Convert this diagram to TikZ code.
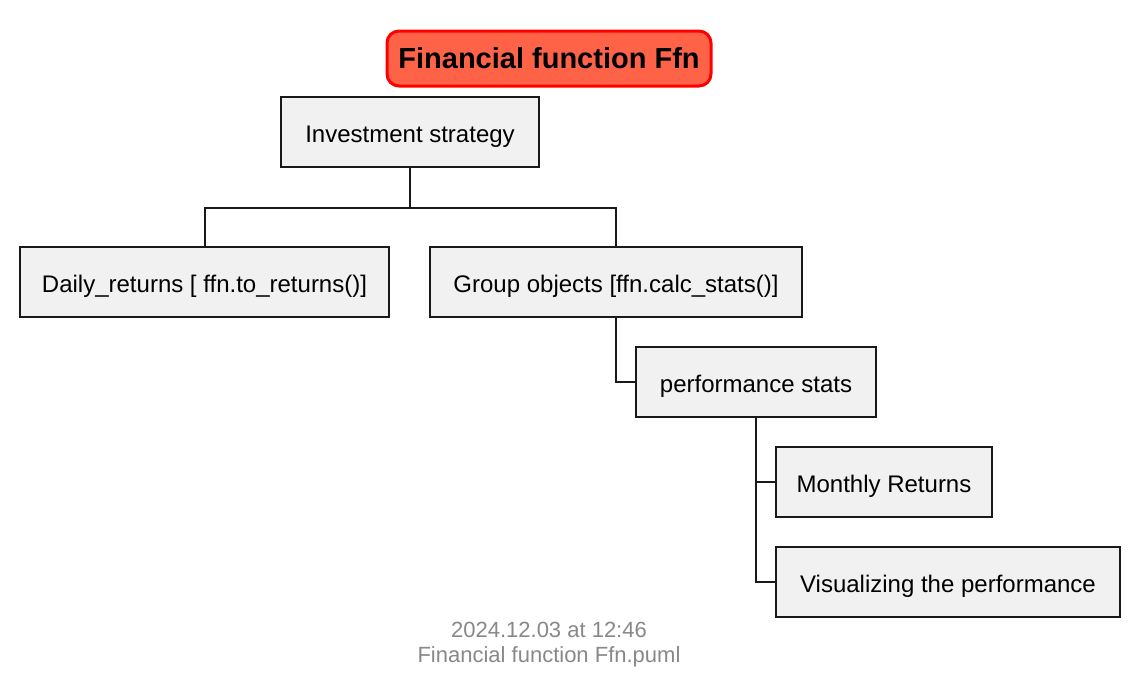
\documentclass[tikz,border=0pt]{standalone}
\usepackage{fontspec}
\setmainfont{Liberation Sans}
\usetikzlibrary{positioning}

\definecolor{boxfill}{HTML}{F1F1F1}
\definecolor{titlefill}{HTML}{FF6347}
\definecolor{footgray}{HTML}{888888}

\begin{document}
\begin{tikzpicture}[
        x=0.5pt, y=-0.5pt,
        item/.style={
            draw=black!90, fill=boxfill, line width=1pt,
            minimum height=35pt, inner sep=0pt,
            text height=10pt, text depth=0pt,
            font=\fontsize{12}{14}\selectfont
        },
        titlebox/.style={
            draw=red, fill=titlefill, line width=1.5pt, rounded corners=6pt,
            minimum width=162pt, minimum height=27.5pt, inner sep=0pt,
            text height=9.5pt, text depth=0pt,
            font=\fontsize{14.5}{17}\selectfont\bfseries
        },
        link/.style={line width=1pt, black!90}
    ]
    \useasboundingbox (0,0) rectangle (1140,692);

    \node[titlebox] (title) at (549,58.5) {Financial function Ffn};
    \node[item, minimum width=129pt] (invest) at (410,132) {Investment strategy};
    \node[item, minimum width=184.5pt] (daily) at (204.5,282) {Daily\_returns [ ffn.to\_returns()]};
    \node[item, minimum width=186pt] (group) at (616,282) {Group objects [ffn.calc\_stats()]};
    \node[item, minimum width=120pt] (perf) at (756,382) {performance stats};
    \node[item, minimum width=108pt] (monthly) at (884,482) {Monthly Returns};
    \node[item, minimum width=172pt] (visual) at (948,582) {Visualizing the performance};

    \draw[link] (invest.south) -- ++(0,40) -| (daily.north);
    \draw[link] (invest.south) -- ++(0,40) -| (group.north);
    \draw[link] (group.south) |- (perf.west);
    \draw[link] (perf.south) |- (monthly.west);
    \draw[link] (perf.south) |- (visual.west);

    % footer
    \node[font=\fontsize{11}{12.5}\selectfont, text=footgray, align=center] (footer) at (549,644.5)
      {2024.12.03 at 12:46\\Financial function Ffn.puml};
\end{tikzpicture}
\end{document}
